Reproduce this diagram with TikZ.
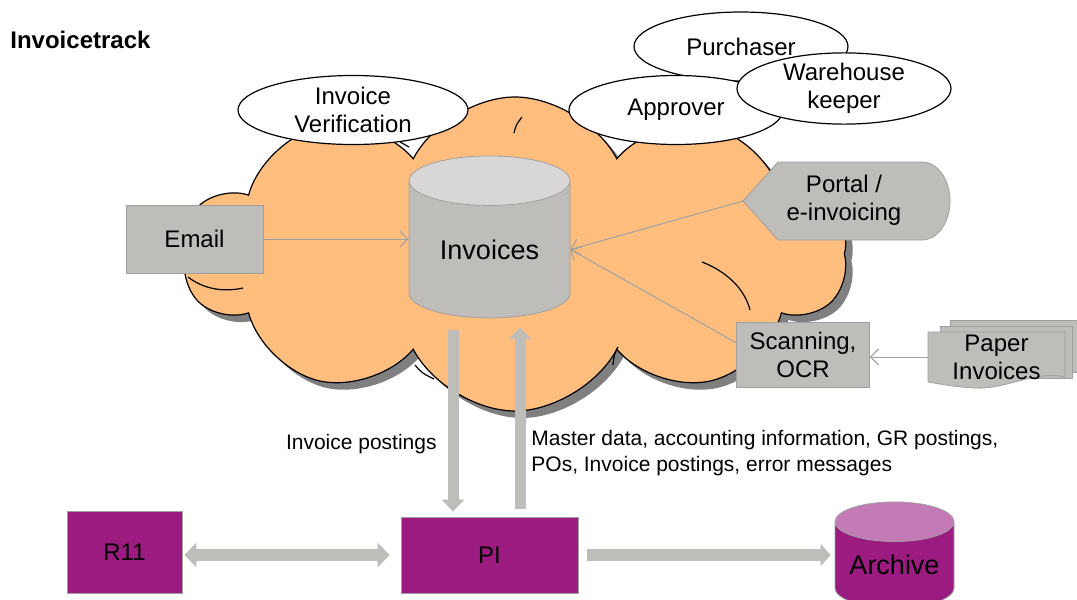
\documentclass[tikz,border=0pt]{standalone}
\usepackage{fontspec}
\setmainfont{Liberation Sans}
\usetikzlibrary{shapes.geometric,shapes.symbols,shadows,arrows.meta}

\definecolor{cloudorange}{RGB}{255,190,125}
\definecolor{boxgray}{RGB}{191,189,185}
\definecolor{bordergray}{RGB}{160,160,160}
\definecolor{topgray}{RGB}{216,215,213}
\definecolor{sappurple}{RGB}{155,27,129}
\definecolor{lightpurple}{RGB}{196,122,182}

\tikzset{
  graybox/.style={rectangle, draw=bordergray, fill=boxgray, align=center,
    inner sep=0pt, font=\fontsize{12}{14}\selectfont},
  purplebox/.style={rectangle, draw=bordergray, fill=sappurple,
    inner sep=0pt, font=\fontsize{12}{14}\selectfont},
  role/.style={ellipse, draw=black, line width=0.6pt, fill=white, align=center,
    minimum width=107pt, minimum height=34.5pt, inner sep=0pt,
    font=\fontsize{12}{14}\selectfont},
  feed/.style={draw=bordergray, line width=0.5pt, -{Straight Barb[length=4pt,width=8pt]}},
  bigarrow/.style={draw=boxgray, line width=6pt},
  puff/.style={draw=black, line width=0.6pt},
}

\begin{document}
\begin{tikzpicture}[x=0.5pt, y=-0.5pt]
    \fill[white] (0,0) rectangle (1077,600);
    \useasboundingbox (0,0) rectangle (1077,600);

    % Title
    \node[anchor=west, inner sep=0pt, font=\bfseries\fontsize{12}{14}\selectfont] (title) at (10,40) {Invoicetrack};

    % Cloud
    \node[cloud, cloud puffs=10, cloud puff arc=125, cloud ignores aspect,
      draw=black, line width=0.6pt, fill=cloudorange,
      minimum width=332pt, minimum height=157pt,
      drop shadow={shadow xshift=3.5pt, shadow yshift=-3.5pt, fill=black!50, opacity=1}]
      (cloud) at (515,254) {};

    % Inner cloud lines
    \draw[puff] (188,277) .. controls (205,290) and (225,292) .. (243,288);
    \draw[puff] (400,142) -- (409,147);
    \draw[puff] (514,133) .. controls (516,125) .. (522,117);
    \draw[puff] (702,262) .. controls (728,272) and (745,290) .. (750,310);
    \draw[puff] (415,365) .. controls (422,373) .. (434,379);
    \draw[puff] (618,347) .. controls (614,355) .. (613,365);

    % Invoices store
    \node[cylinder, shape border rotate=90, aspect=0.5, draw=bordergray,
      cylinder uses custom fill, cylinder body fill=boxgray, cylinder end fill=topgray,
      minimum width=80.5pt, minimum height=81pt, inner sep=0pt,
      font=\fontsize{13.5}{16}\selectfont] (inv) at (489.5,249.5) {Invoices};

    % Sources
    \node[graybox, minimum width=68.5pt, minimum height=34pt] (email) at (194.5,239) {Email};
    \node[graybox, minimum width=66.5pt, minimum height=32.5pt] (scan) at (803,354.5) {Scanning,\\OCR};

    \coordinate (portaltip) at (743,201);
    \filldraw[fill=boxgray, draw=bordergray] (portaltip) -- (778,162) -- (922,162)
      .. controls (937.5,162) and (950,179.5) .. (950,201)
      .. controls (950,222.5) and (937.5,240) .. (922,240) -- (778,240) -- cycle;
    \node[align=center, inner sep=0pt, font=\fontsize{12}{14}\selectfont] (portal) at (844,200) {Portal /\\e-invoicing};

    % Paper invoices
    \filldraw[fill=boxgray, draw=bordergray] (950,320) -- (1080,320) -- (1080,372) -- (950,372) -- cycle;
    \filldraw[fill=boxgray, draw=bordergray] (940,326) -- (1072,326) -- (1072,378) -- (940,378) -- cycle;
    \filldraw[fill=boxgray, draw=bordergray] (928,332) -- (1065,332) -- (1065,377)
      .. controls (1035,370) and (1005,390) .. (975,388)
      .. controls (955,387) and (940,384) .. (928,382) -- cycle;
    \node[align=center, inner sep=0pt, minimum width=68.5pt, font=\fontsize{12}{14}\selectfont] (paper) at (996.5,357) {Paper\\Invoices};

    % Feeds into the store
    \draw[feed] (email.east) -- (email.east -| inv.west);
    \draw[feed] (portaltip) -- (inv.east);
    \draw[feed] (scan.170) -- (inv.east);
    \draw[feed] (paper.west) -- (paper.west -| scan.east);

    % Roles
    \node[role, minimum width=115pt] (verif) at (353,110) {Invoice\\Verification};
    \node[role] (purch) at (741,46.5) {Purchaser};
    \node[role] (appr) at (676,110) {Approver};
    \node[role] (whk) at (844,88.5) {Warehouse\\keeper};

    % Back end
    \node[purplebox, minimum width=57.5pt, minimum height=41pt] (r11) at (124.5,552) {R11};
    \node[purplebox, minimum width=88.5pt, minimum height=38pt] (pi) at (489.5,555) {PI};
    \node[cylinder, shape border rotate=90, aspect=0.44, draw=bordergray,
      cylinder uses custom fill, cylinder body fill=sappurple, cylinder end fill=lightpurple,
      minimum width=59.5pt, minimum height=53pt, inner sep=0pt,
      font=\fontsize{13.5}{16}\selectfont] (arch) at (894.5,565) {Archive};

    % Interfaces
    \draw[bigarrow, {Triangle[width=12pt,length=6pt]}-{Triangle[width=12pt,length=6pt]},
      shorten <=1pt, shorten >=5.5pt] (r11.east |- pi.west) -- (pi.west);
    \draw[bigarrow, -{Triangle[width=11pt,length=5pt]}, shorten <=4.5pt, shorten >=2pt]
      (pi.east) -- (pi.east -| arch.west);
    \draw[bigarrow, line width=5.5pt, -{Triangle[width=11pt,length=6pt]}, shorten <=6pt, shorten >=2.5pt]
      ([xshift=-18.25pt]inv.south) -- ([xshift=-18.25pt]inv.south |- pi.north);
    \draw[bigarrow, line width=5.5pt, -{Triangle[width=11pt,length=6pt]}, shorten <=4pt, shorten >=4.5pt]
      ([xshift=15.25pt]inv.south |- pi.north) -- ([xshift=15.25pt]inv.south);

    % Labels
    \node[anchor=east, inner sep=0pt, font=\fontsize{10.5}{13}\selectfont] (postlbl) at (437,444) {Invoice postings};
    \node[anchor=west, align=left, inner sep=0pt, font=\fontsize{10.5}{13}\selectfont] (masterlbl) at (531,453)
      {Master data, accounting information, GR postings,\\POs, Invoice postings, error messages};
\end{tikzpicture}
\end{document}
